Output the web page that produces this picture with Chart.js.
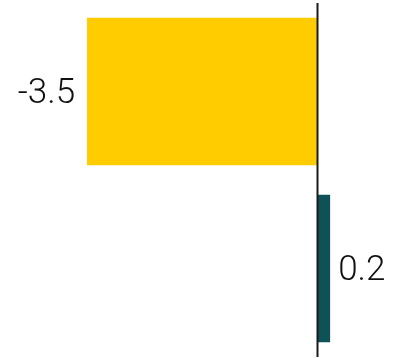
<!DOCTYPE html>
<html>
<head>
<meta charset="utf-8">
<script src="https://cdn.jsdelivr.net/npm/chart.js@4/dist/chart.umd.min.js"></script>
<style>
  html, body { margin: 0; padding: 0; background: #ffffff; }
  #wrap { width: 393px; height: 358px; position: relative; }
</style>
</head>
<body>
<div id="wrap"><canvas id="c"></canvas></div>
<script>
const categories = ["A", "B"];
const values = [-3.5, 0.2];
const labels = ["-3.5", "0.2"];
const barColors = ["#FFCC00", "#0E5257"];

const zeroLine = {
  id: 'zeroLine',
  afterDatasetsDraw(chart) {
    const { ctx, chartArea, scales } = chart;
    const x = Math.round(scales.x.getPixelForValue(0)) + 0.5;
    ctx.save();
    ctx.strokeStyle = '#1a1a1a';
    ctx.lineWidth = 2;
    ctx.beginPath();
    ctx.moveTo(x, chartArea.top);
    ctx.lineTo(x, chartArea.bottom);
    ctx.stroke();
    ctx.restore();
  }
};

const valueLabels = {
  id: 'valueLabels',
  afterDatasetsDraw(chart) {
    const { ctx } = chart;
    const meta = chart.getDatasetMeta(0);
    ctx.save();
    ctx.font = '300 35px Roboto, "Liberation Sans", sans-serif';
    ctx.fillStyle = '#111111';
    ctx.textBaseline = 'middle';
    meta.data.forEach((el, i) => {
      const v = values[i];
      if (v < 0) {
        ctx.textAlign = 'right';
        ctx.fillText(labels[i], el.x - 12, el.y + 3);
      } else {
        ctx.textAlign = 'left';
        ctx.fillText(labels[i], el.x + 8, el.y + 3);
      }
    });
    ctx.restore();
  }
};

new Chart(document.getElementById('c'), {
  type: 'bar',
  data: {
    labels: categories,
    datasets: [{
      data: values,
      backgroundColor: barColors,
      borderWidth: 0,
      categoryPercentage: 1.0,
      barPercentage: 0.833
    }]
  },
  options: {
    indexAxis: 'y',
    responsive: true,
    maintainAspectRatio: false,
    animation: false,
    layout: { padding: { top: 3, bottom: 1, left: 0, right: 0 } },
    plugins: { legend: { display: false }, tooltip: { enabled: false } },
    scales: {
      x: {
        display: false,
        min: -4.825,
        max: 1.157
      },
      y: {
        display: false
      }
    }
  },
  plugins: [zeroLine, valueLabels]
});
</script>
</body>
</html>
